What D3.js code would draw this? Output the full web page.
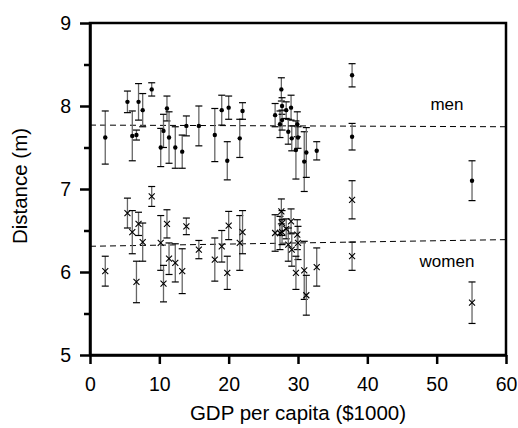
<!DOCTYPE html>
<html>
<head>
<meta charset="utf-8">
<script src="https://cdn.jsdelivr.net/npm/d3@7"></script>
<style>
  body { margin: 0; background: #fff; overflow: hidden; }
  svg { display: block; }
  svg text { font-family: "Liberation Sans", Arial, sans-serif; fill: #000; }
</style>
</head>
<body>
<div id="chart"></div>
<script>
// GDP per capita ($1000) per country, shared by both series
var gdp = [2.2, 5.4, 6.1, 6.7, 7.0, 7.6, 8.9, 10.2, 10.6, 11.1, 11.4, 12.3, 13.3, 13.9, 15.7, 18.0, 19.0, 19.8, 20.0, 21.6, 22.0,
           26.7, 27.4, 27.6, 27.7, 27.7, 28.3, 29.0, 28.6, 29.1, 29.9, 30.0, 29.7, 30.9, 31.2, 32.7, 37.8, 37.8, 55.1];
var menDist = [7.62, 8.05, 7.64, 7.65, 8.05, 7.95, 8.20, 7.50, 7.70, 7.97, 7.62, 7.50, 7.45, 7.76, 7.76, 7.65, 7.95, 7.34, 7.98, 7.61, 7.94,
               7.89, 7.78, 8.20, 8.00, 7.83, 7.95, 7.98, 7.69, 7.61, 7.78, 7.62, 7.47, 7.33, 7.44, 7.46, 8.37, 7.63, 7.10];
var menErr = [0.32, 0.13, 0.30, 0.06, 0.22, 0.20, 0.08, 0.23, 0.20, 0.15, 0.31, 0.25, 0.20, 0.12, 0.24, 0.32, 0.18, 0.23, 0.14, 0.23, 0.10,
              0.14, 0.16, 0.14, 0.10, 0.12, 0.10, 0.15, 0.15, 0.15, 0.15, 0.13, 0.35, 0.36, 0.30, 0.11, 0.14, 0.16, 0.24];
var womenDist = [6.01, 6.71, 6.48, 5.88, 6.58, 6.36, 6.91, 6.35, 5.86, 6.58, 6.16, 6.11, 6.01, 6.55, 6.27, 6.15, 6.31, 5.99, 6.56, 6.35, 6.48,
                 6.47, 6.47, 6.73, 6.59, 6.48, 6.52, 6.61, 6.33, 6.27, 6.45, 6.35, 5.99, 6.02, 5.72, 6.06, 6.87, 6.19, 5.63];
var womenErr = [0.18, 0.18, 0.26, 0.25, 0.14, 0.23, 0.12, 0.33, 0.22, 0.17, 0.19, 0.23, 0.27, 0.10, 0.11, 0.26, 0.19, 0.20, 0.17, 0.33, 0.26,
                0.22, 0.20, 0.15, 0.15, 0.15, 0.12, 0.15, 0.20, 0.20, 0.18, 0.20, 0.20, 0.35, 0.24, 0.23, 0.23, 0.17, 0.25];
// fitted (dashed) lines, values at x = 0 and x = 60
var fitX = [0, 60];
var menFit = [7.77, 7.75];
var womenFit = [6.31, 6.39];
var xTicks = [0, 10, 20, 30, 40, 50, 60];
var yTicks = [5, 6, 7, 8, 9];
var yMinor = [5.5, 6.5, 7.5, 8.5];

var width = 518, height = 428;
var mLeft = 90, mRight = 506, mTop = 23, mBottom = 355;

var svg = d3.select("#chart").append("svg").attr("width", width).attr("height", height);

var x = d3.scaleLinear().domain([0, 60]).range([mLeft, mRight]);
var y = d3.scaleLinear().domain([5, 9]).range([mBottom, mTop]);

// frame (top + right)
svg.append("rect").attr("x", mLeft).attr("y", mTop).attr("width", mRight - mLeft).attr("height", mBottom - mTop)
  .attr("fill", "none").attr("stroke", "black").attr("stroke-width", 2.5);

// axes
svg.append("g").attr("transform", "translate(0," + mBottom + ")")
  .call(d3.axisBottom(x).tickValues(xTicks).tickSize(9).tickPadding(13).tickSizeOuter(0).tickFormat(d3.format("d")));
svg.append("g").attr("transform", "translate(" + mLeft + ",0)")
  .call(d3.axisLeft(y).tickValues(yTicks).tickSize(10).tickPadding(9).tickSizeOuter(0).tickFormat(d3.format("d")));
svg.append("g").attr("transform", "translate(" + mLeft + ",0)")
  .call(d3.axisLeft(y).tickValues(yMinor).tickSize(6).tickFormat("").tickSizeOuter(0))
  .select(".domain").remove();

svg.selectAll(".domain").attr("stroke-width", 2.5);
svg.selectAll(".tick line").attr("stroke-width", 2.5);
svg.selectAll(".tick text").attr("font-size", "19.5px").attr("font-family", "Liberation Sans, Arial, sans-serif");

// axis titles
svg.append("text").attr("x", (mLeft + mRight) / 2).attr("y", 420).attr("text-anchor", "middle")
  .attr("font-size", "20.5px").text("GDP per capita ($1000)");
svg.append("text").attr("transform", "translate(27," + ((mTop + mBottom) / 2 - 3) + ") rotate(-90)")
  .attr("text-anchor", "middle").attr("font-size", "20.5px").text("Distance (m)");

// dashed fit lines
var line = d3.line().x(function(d) { return x(d[0]); }).y(function(d) { return y(d[1]); });
[menFit, womenFit].forEach(function(f) {
  svg.append("path").datum(fitX.map(function(v, i) { return [v, f[i]]; }))
    .attr("d", line).attr("fill", "none").attr("stroke", "black").attr("stroke-width", 1)
    .attr("stroke-dasharray", "6,4");
});

// series labels
svg.append("text").attr("x", 447).attr("y", 110).attr("text-anchor", "middle").attr("font-size", "17px").text("men");
svg.append("text").attr("x", 447).attr("y", 267).attr("text-anchor", "middle").attr("font-size", "17px").text("women");

// error bars
function errorBars(vals, errs) {
  var g = svg.append("g");
  gdp.forEach(function(gx, i) {
    var cx = x(gx), y1 = y(vals[i] + errs[i]), y2 = y(vals[i] - errs[i]);
    g.append("line").attr("x1", cx).attr("x2", cx).attr("y1", y1).attr("y2", y2)
      .attr("stroke", "#666").attr("stroke-width", 1.3);
    [y1, y2].forEach(function(cy) {
      g.append("line").attr("x1", cx - 3.5).attr("x2", cx + 3.5).attr("y1", cy).attr("y2", cy)
        .attr("stroke", "black").attr("stroke-width", 1.2);
    });
  });
}
errorBars(menDist, menErr);
errorBars(womenDist, womenErr);

// men: filled dots
svg.append("g").selectAll("circle").data(menDist).enter().append("circle")
  .attr("cx", function(d, i) { return x(gdp[i]); })
  .attr("cy", function(d) { return y(d); })
  .attr("r", 2.2).attr("fill", "black");

// women: crosses
var s = 3;
svg.append("g").selectAll("path.cross").data(womenDist).enter().append("path")
  .attr("class", "cross")
  .attr("d", function(d, i) {
    var cx = x(gdp[i]), cy = y(d);
    return "M" + (cx - s) + "," + (cy - s) + "L" + (cx + s) + "," + (cy + s) +
           "M" + (cx - s) + "," + (cy + s) + "L" + (cx + s) + "," + (cy - s);
  })
  .attr("stroke", "black").attr("stroke-width", 1.1).attr("fill", "none");
</script>
</body>
</html>
